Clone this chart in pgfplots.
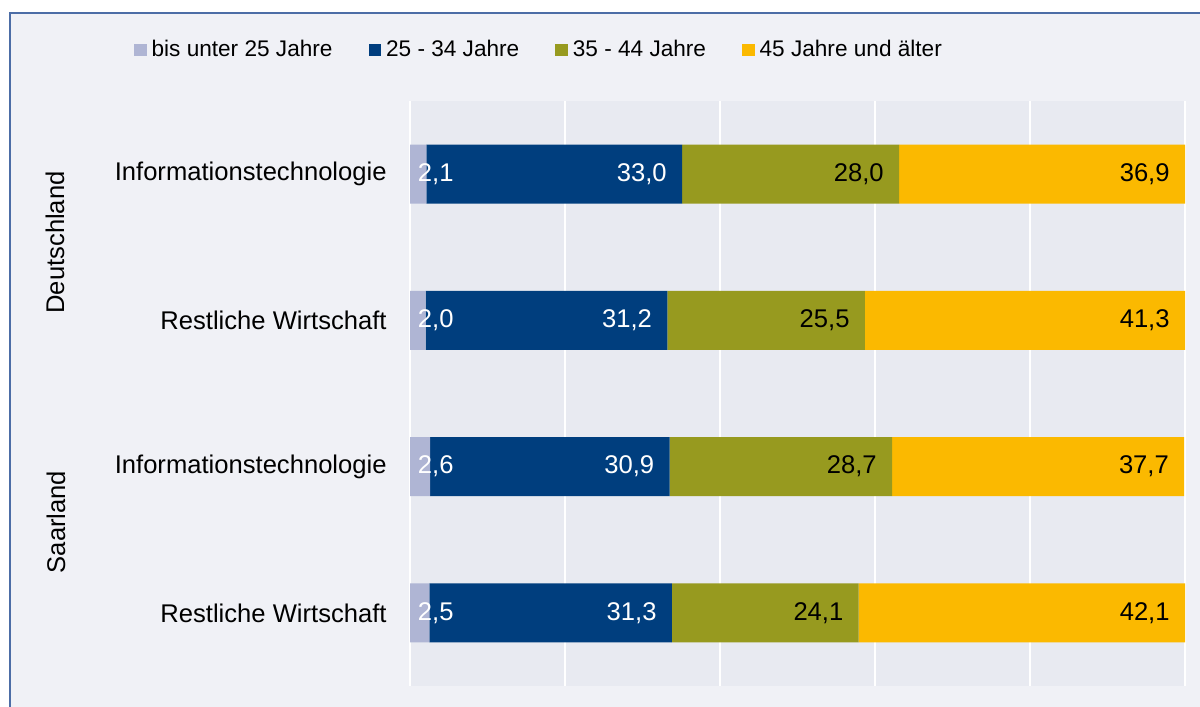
\documentclass[border=0pt]{standalone}
\usepackage{fontspec}
\setmainfont{Liberation Sans}
\usepackage{pgfplots}
\usepackage{pgfplotstable}
\pgfplotsset{compat=1.18}

\definecolor{outerbg}{HTML}{F0F1F6}
\definecolor{plotbg}{HTML}{E8EAF1}
\definecolor{framecol}{HTML}{4C6DA6}
\definecolor{lav}{HTML}{AFB5D4}
\definecolor{dblue}{HTML}{003E7E}
\definecolor{olive}{HTML}{979A1F}
\definecolor{amber}{HTML}{FBB900}

\newcommand{\labfont}{\fontsize{12.8}{15}\selectfont}
\newcommand{\legfont}{\fontsize{11.3}{13}\selectfont}

% y: 3 = Deutschland IT, 2 = Deutschland Rest, 1 = Saarland IT, 0 = Saarland Rest
\pgfplotstableread{
y x lab
3 2.1 2,1
2 2.0 2,0
1 2.6 2,6
0 2.5 2,5
}\tabA
\pgfplotstableread{
y x lab
3 33.0 33,0
2 31.2 31,2
1 30.9 30,9
0 31.3 31,3
}\tabB
\pgfplotstableread{
y x lab
3 28.0 28,0
2 25.5 25,5
1 28.7 28,7
0 24.1 24,1
}\tabC
\pgfplotstableread{
y x lab
3 36.9 36,9
2 41.3 41,3
1 37.7 37,7
0 42.1 42,1
}\tabD

% labels sit at the segment centre; move them to the inner end (1% = 3.875pt)
\pgfplotsset{
  endlabel/.style={visualization depends on={rawx\as\xv},
    every node near coord/.append style={text=#1, anchor=east, xshift={\xv*1.9375pt-7.5pt}}},
}

\begin{document}
\begin{tikzpicture}
\useasboundingbox (0,0) rectangle (600pt,353.5pt);
\fill[white] (0,0) rectangle (600pt,353.5pt);
\fill[outerbg] (5pt,0) rectangle (600pt,347pt);
\draw[framecol, line width=1pt] (5pt,0) -- (5pt,347pt) -- (600pt,347pt);

\begin{axis}[
  at={(205pt,10.5pt)}, anchor=south west,
  scale only axis, width=387.5pt, height=292.5pt,
  xbar stacked, bar width=29.5pt,
  xmin=0, xmax=100, ymin=-0.5, ymax=3.5,
  axis line style={draw=none},
  axis background/.style={fill=plotbg},
  major tick length=0pt,
  xtick={20,40,60,80,100}, xticklabels={},
  xmajorgrids, major grid style={white, line width=1pt},
  extra x ticks={0}, extra x tick labels={},
  extra x tick style={grid style={gray!85, line width=0.6pt}},
  ytick={0,1,2,3},
  yticklabels={Restliche Wirtschaft, Informationstechnologie, Restliche Wirtschaft, Informationstechnologie},
  yticklabel style={font=\labfont, anchor=east, inner sep=0pt, xshift=-11.5pt},
  point meta=explicit symbolic,
  nodes near coords,
  every node near coord/.style={font=\labfont, inner sep=0pt},
  legend columns=4,
  legend style={draw=none, fill=none, inner sep=0pt, outer sep=0pt,
    at={(-0.3561,1.0872)}, anchor=west, font=\legfont,
    nodes={inner sep=0pt},
    /tikz/every odd column/.append style={column sep=2.5pt},
    /tikz/every even column/.append style={column sep=18pt}},
  legend image code/.code={\fill[#1] (0pt,-3.15pt) rectangle (6.3pt,3.15pt);},
]
\addplot[fill=lav, draw=none,
  visualization depends on={rawx\as\xv},
  every node near coord/.append style={text=white, anchor=west, xshift={3.75pt-\xv*1.9375pt}}]
  table[x=x, y=y, meta=lab]{\tabA};
\addlegendentry{bis unter 25 Jahre}
\addplot[fill=dblue, draw=none, endlabel=white]
  table[x=x, y=y, meta=lab]{\tabB};
\addlegendentry{25 - 34 Jahre}
\addplot[fill=olive, draw=none, endlabel=black]
  table[x=x, y=y, meta=lab]{\tabC};
\addlegendentry{35 - 44 Jahre}
\addplot[fill=amber, draw=none, endlabel=black]
  table[x=x, y=y, meta=lab]{\tabD};
\addlegendentry{45 Jahre und älter}
\end{axis}

\node[rotate=90, anchor=base, font=\labfont, inner sep=0pt] at (32pt,232.25pt) {Deutschland};
\node[rotate=90, anchor=base, font=\labfont, inner sep=0pt] at (32.5pt,92.5pt) {Saarland};
\end{tikzpicture}
\end{document}
